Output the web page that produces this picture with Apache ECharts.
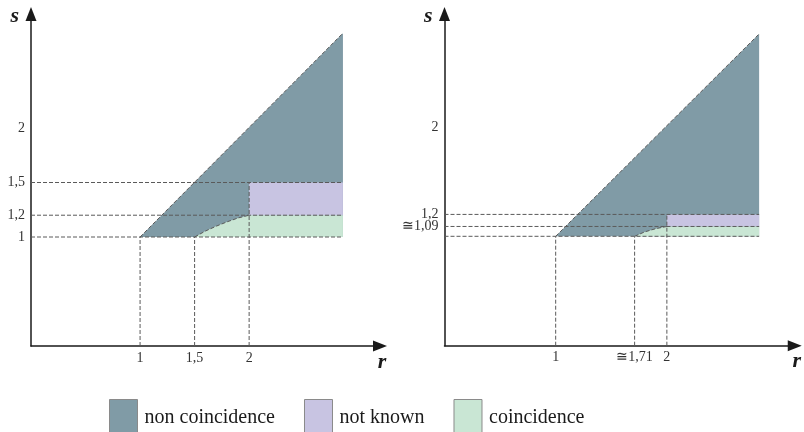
<!DOCTYPE html>
<html>
<head>
<meta charset="utf-8">
<script src="https://cdn.jsdelivr.net/npm/echarts@6/dist/echarts.min.js"></script>
<style>
  html, body { margin: 0; padding: 0; background: #ffffff; }
  #chart { width: 804px; height: 432px; }
</style>
</head>
<body>
<div id="chart"></div>
<script>
// ---- left panel ----
const leftRTicks = [1, 1.5, 2];
const leftRLabels = ['1', '1,5', '2'];
const leftSTicks = [1, 1.2, 1.5, 2];
const leftSLabels = ['1', '1,2', '1,5', '2'];
const leftNonCoincidence = [[1, 1], [2.86, 1], [2.86, 2.87]];
const leftNotKnown = [[2, 1.2], [2.86, 1.2], [2.86, 1.5], [2, 1.5]];
const leftBoundary = [[1.5, 1], [1.6, 1.055], [1.7, 1.1], [1.8, 1.14], [1.9, 1.175], [2, 1.2]];
const leftCoincidenceEnd = [[2.86, 1.2], [2.86, 1]];
const leftGuides = [
  [0, 1, 2.86, 1], [0, 1.2, 2.86, 1.2], [0, 1.5, 2.86, 1.5],
  [1, 0, 1, 1], [1.5, 0, 1.5, 1], [2, 0, 2, 1.5],
  [1, 1, 2.86, 2.87]
];

// ---- right panel ----
const rightRTicks = [1, 1.71, 2];
const rightRLabels = ['1', '\u22451,71', '2'];
const rightSTicks = [1, 1.09, 1.2, 2];
const rightSLabels = ['1', '\u22451,09', '1,2', '2'];
const rightNonCoincidence = [[1, 1], [2.83, 1], [2.83, 2.85]];
const rightNotKnown = [[2, 1.09], [2.83, 1.09], [2.83, 1.2], [2, 1.2]];
const rightBoundary = [[1.71, 1], [1.8, 1.04], [1.9, 1.07], [2, 1.09]];
const rightCoincidenceEnd = [[2.83, 1.09], [2.83, 1]];
const rightGuides = [
  [0, 1, 2.83, 1], [0, 1.09, 2.83, 1.09], [0, 1.2, 2.83, 1.2],
  [1, 0, 1, 1], [1.71, 0, 1.71, 1], [2, 0, 2, 1.2],
  [1, 1, 2.83, 2.85]
];

const regionNames = ['non coincidence', 'not known', 'coincidence'];
const regionColors = ['#809ba6', '#c8c4e2', '#c9e6d4'];

const SERIF = '"Liberation Serif", "DejaVu Serif", serif';
const guideColor = '#5a5a5a';

function labelFor(ticks, labels) {
  return function (v) {
    let best = 0;
    for (let i = 1; i < ticks.length; i++) {
      if (Math.abs(ticks[i] - v) < Math.abs(ticks[best] - v)) best = i;
    }
    return labels[best];
  };
}

function regionSeries(name, color, panel, points) {
  return {
    type: 'custom',
    name: name,
    xAxisIndex: panel,
    yAxisIndex: panel,
    silent: true,
    z: 1,
    itemStyle: { color: color },
    data: points,
    renderItem: function (params, api) {
      if (params.dataIndex !== 0) return null;
      return {
        type: 'polygon',
        shape: { points: points.map(function (p) { return api.coord(p); }) },
        style: { fill: color }
      };
    }
  };
}

function guideSeries(panel, segments) {
  return {
    type: 'custom',
    xAxisIndex: panel,
    yAxisIndex: panel,
    silent: true,
    z: 3,
    dimensions: ['x1', 'y1', 'x2', 'y2'],
    encode: { x: [0, 2], y: [1, 3] },
    data: segments,
    renderItem: function (params, api) {
      const a = api.coord([api.value(0), api.value(1)]);
      const b = api.coord([api.value(2), api.value(3)]);
      return {
        type: 'line',
        shape: { x1: a[0], y1: a[1], x2: b[0], y2: b[1] },
        style: { stroke: guideColor, lineWidth: 1, lineDash: [4, 2] }
      };
    }
  };
}

function curveSeries(panel, points) {
  return {
    type: 'custom',
    xAxisIndex: panel,
    yAxisIndex: panel,
    silent: true,
    z: 3,
    data: points,
    renderItem: function (params, api) {
      if (params.dataIndex !== 0) return null;
      return {
        type: 'polyline',
        shape: { points: points.map(function (p) { return api.coord(p); }) },
        style: { stroke: guideColor, lineWidth: 1, lineDash: [4, 2], fill: null }
      };
    }
  };
}

function xAxisFor(panel, max, ticks, labels) {
  return {
    type: 'value', gridIndex: panel, min: 0, max: max,
    name: 'r', nameLocation: 'end', nameGap: 2,
    nameTextStyle: {
      fontFamily: SERIF, fontSize: 22, fontStyle: 'italic', fontWeight: 'bold', color: '#1a1a1a',
      align: 'center', verticalAlign: 'top', padding: [5, 0, 0, 0]
    },
    axisLine: {
      show: true, onZero: false,
      lineStyle: { color: '#1a1a1a', width: 1.5 },
      symbol: ['none', 'triangle'], symbolSize: [11, 14]
    },
    axisTick: { show: false },
    splitLine: { show: false },
    axisLabel: {
      customValues: ticks, formatter: labelFor(ticks, labels),
      fontFamily: SERIF, fontSize: 14, color: '#333', margin: 5
    }
  };
}

function yAxisFor(panel, max, ticks, labels) {
  return {
    type: 'value', gridIndex: panel, min: 0, max: max,
    name: 's', nameLocation: 'end', nameGap: -2,
    nameTextStyle: {
      fontFamily: SERIF, fontSize: 22, fontStyle: 'italic', fontWeight: 'bold', color: '#1a1a1a',
      align: 'right', verticalAlign: 'middle', padding: [0, 12, 0, 0]
    },
    axisLine: {
      show: true, onZero: false,
      lineStyle: { color: '#1a1a1a', width: 1.5 },
      symbol: ['none', 'triangle'], symbolSize: [11, 14]
    },
    axisTick: { show: false },
    splitLine: { show: false },
    axisLabel: {
      customValues: ticks, formatter: labelFor(ticks, labels),
      fontFamily: SERIF, fontSize: 14, color: '#333', margin: 6
    }
  };
}

const chart = echarts.init(document.getElementById('chart'), null, { renderer: 'canvas' });

chart.setOption({
  animation: false,
  backgroundColor: '#ffffff',
  grid: [
    { left: 31, top: 14, width: 349, height: 332 },
    { left: 444.5, top: 14, width: 350.5, height: 331.7 }
  ],
  xAxis: [
    xAxisFor(0, 3.2, leftRTicks, leftRLabels),
    xAxisFor(1, 3.15, rightRTicks, rightRLabels)
  ],
  yAxis: [
    yAxisFor(0, 3.046, leftSTicks, leftSLabels),
    yAxisFor(1, 3.032, rightSTicks, rightSLabels)
  ],
  legend: {
    data: regionNames,
    left: 109, top: 399,
    padding: 0,
    itemWidth: 28, itemHeight: 36, itemGap: 29,
    icon: 'rect',
    selectedMode: false,
    itemStyle: { borderColor: '#8a8a8a', borderWidth: 1 },
    textStyle: { fontFamily: SERIF, fontSize: 20, color: '#1a1a1a', padding: [0, 0, 0, 2] }
  },
  series: [
    regionSeries(regionNames[0], regionColors[0], 0, leftNonCoincidence),
    regionSeries(regionNames[1], regionColors[1], 0, leftNotKnown),
    regionSeries(regionNames[2], regionColors[2], 0, leftBoundary.concat(leftCoincidenceEnd)),
    guideSeries(0, leftGuides),
    curveSeries(0, leftBoundary),
    regionSeries(regionNames[0], regionColors[0], 1, rightNonCoincidence),
    regionSeries(regionNames[1], regionColors[1], 1, rightNotKnown),
    regionSeries(regionNames[2], regionColors[2], 1, rightBoundary.concat(rightCoincidenceEnd)),
    guideSeries(1, rightGuides),
    curveSeries(1, rightBoundary)
  ]
});
</script>
</body>
</html>
